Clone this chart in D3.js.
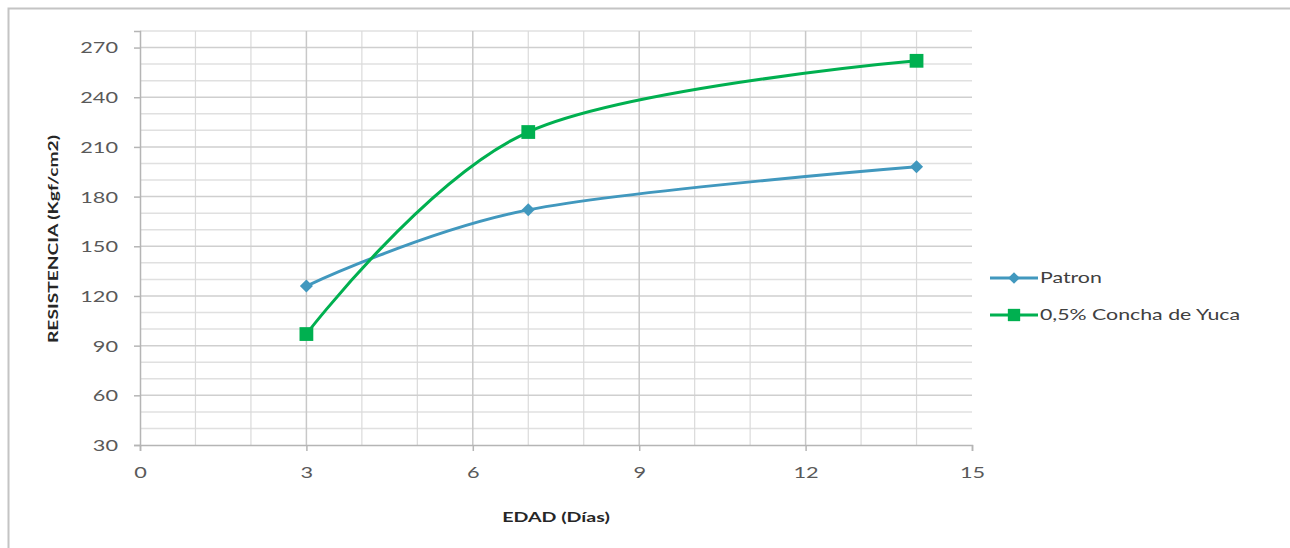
<!DOCTYPE html>
<html>
<head>
<meta charset="utf-8">
<script src="https://cdn.jsdelivr.net/npm/d3@7"></script>
<style>
  body { margin: 0; background: #fff; }
  svg { display: block; font-family: Lato, "Open Sans", sans-serif; }
</style>
</head>
<body>
<div id="chart"></div>
<script>
// data
const dias = [3, 7, 14];
const patron = [126, 172, 198];
const conchaYuca = [97, 219, 262];
const seriesNames = ["Patron", "0,5% Concha de Yuca"];
const xTicks = [0, 3, 6, 9, 12, 15];
const yTicks = [30, 60, 90, 120, 150, 180, 210, 240, 270];

const W = 1290, H = 548;
const margin = { top: 31, left: 140 };
const plotW = 832, plotH = 414;
const stretch = 1.4; // the source picture is widened horizontally

function widen(sel, k) {
  sel.each(function () {
    const w = this.getComputedTextLength();
    d3.select(this)
      .attr('textLength', w * k)
      .attr('lengthAdjust', 'spacingAndGlyphs');
  });
}

const svg = d3.select('#chart').append('svg')
  .attr('width', W)
  .attr('height', H);

// outer frame (cropped at right and bottom)
svg.append('path')
  .attr('d', `M8.5,${H} V8.5 H${W}`)
  .attr('fill', 'none')
  .attr('stroke', '#c4c4c4')
  .attr('stroke-width', 2);

const x = d3.scaleLinear().domain([0, 15]).range([0, plotW]);
const y = d3.scaleLinear().domain([30, 280]).range([plotH, 0]);

const chart = svg.append('g')
  .attr('transform', `translate(${margin.left}, ${margin.top})`);

// minor grid
chart.append('g').selectAll('line')
  .data(d3.range(40, 281, 10).filter(v => v % 30 !== 0))
  .join('line')
  .attr('x1', 0).attr('x2', plotW)
  .attr('y1', d => y(d)).attr('y2', d => y(d))
  .attr('stroke', '#e0e0e0').attr('stroke-width', 1.5);
chart.append('g').selectAll('line')
  .data(d3.range(1, 16).filter(v => v % 3 !== 0))
  .join('line')
  .attr('x1', d => x(d)).attr('x2', d => x(d))
  .attr('y1', 0).attr('y2', plotH)
  .attr('stroke', '#dadada').attr('stroke-width', 1.2);

// major grid
chart.append('g').selectAll('line')
  .data(yTicks.slice(1))
  .join('line')
  .attr('x1', 0).attr('x2', plotW)
  .attr('y1', d => y(d)).attr('y2', d => y(d))
  .attr('stroke', '#cfcfcf').attr('stroke-width', 1.5);
chart.append('g').selectAll('line')
  .data(xTicks.slice(1, -1))
  .join('line')
  .attr('x1', d => x(d)).attr('x2', d => x(d))
  .attr('y1', 0).attr('y2', plotH)
  .attr('stroke', '#c8c8c8').attr('stroke-width', 1.5);

// axes
const xAxis = chart.append('g')
  .attr('transform', `translate(0, ${plotH})`)
  .call(d3.axisBottom(x).tickValues(xTicks).tickSize(6).tickPadding(16));
const yAxis = chart.append('g')
  .call(d3.axisLeft(y).tickValues(yTicks).tickSize(6).tickPadding(16));

[xAxis, yAxis].forEach(a => {
  a.select('.domain').attr('stroke', '#b5b5b5').attr('stroke-width', 1.5);
  a.selectAll('.tick line').attr('stroke', '#b5b5b5').attr('stroke-width', 1.5);
  a.selectAll('.tick text')
    .attr('fill', '#595959')
    .style('font-size', '15.5px')
    .style('font-family', 'Lato, "Open Sans", sans-serif')
    .call(widen, stretch);
});
yAxis.selectAll('.tick text').attr('dy', '0.35em');

// axis titles
svg.append('text')
  .attr('x', margin.left + plotW / 2)
  .attr('y', 522)
  .attr('text-anchor', 'middle')
  .attr('fill', '#262626')
  .style('font-size', '14px')
  .style('font-weight', 'bold')
  .text('EDAD (Días)')
  .call(widen, stretch);

svg.append('text')
  .attr('transform', 'translate(58, 239) rotate(-90)')
  .attr('text-anchor', 'middle')
  .attr('fill', '#262626')
  .style('font-size', '14px')
  .style('font-weight', 'bold')
  .attr('textLength', 208)
  .attr('lengthAdjust', 'spacingAndGlyphs')
  .text('RESISTENCIA (Kgf/cm2)');

// series
const series = [
  { name: seriesNames[0], values: patron, color: '#4198be', symbol: d3.symbolSquare, size: 85, rot: 45 },
  { name: seriesNames[1], values: conchaYuca, color: '#00b050', symbol: d3.symbolSquare, size: 190, rot: 0 }
];

const line = d3.line()
  .x(d => x(d[0]))
  .y(d => y(d[1]))
  .curve(d3.curveCardinal.tension(0));

series.forEach(s => {
  const pts = dias.map((d, i) => [d, s.values[i]]);
  chart.append('path')
    .datum(pts)
    .attr('d', line)
    .attr('fill', 'none')
    .attr('stroke', s.color)
    .attr('stroke-width', 3);
  chart.selectAll(null)
    .data(pts)
    .join('path')
    .attr('transform', d => `translate(${x(d[0])}, ${y(d[1])}) rotate(${s.rot})`)
    .attr('d', d3.symbol().type(s.symbol).size(s.size))
    .attr('fill', s.color);
});

// legend
const legend = svg.append('g').attr('transform', 'translate(990, 278)');
series.forEach((s, i) => {
  const g = legend.append('g').attr('transform', `translate(0, ${i * 37})`);
  g.append('line')
    .attr('x1', 0).attr('x2', 48)
    .attr('stroke', s.color).attr('stroke-width', 3);
  g.append('path')
    .attr('transform', `translate(24, 0) rotate(${s.rot})`)
    .attr('d', d3.symbol().type(s.symbol).size(s.size * 0.8))
    .attr('fill', s.color);
  g.append('text')
    .attr('x', 50)
    .attr('dy', '0.35em')
    .attr('fill', '#404040')
    .style('font-size', '15px')
    .text(s.name)
    .call(widen, 1.42);
});
</script>
</body>
</html>
